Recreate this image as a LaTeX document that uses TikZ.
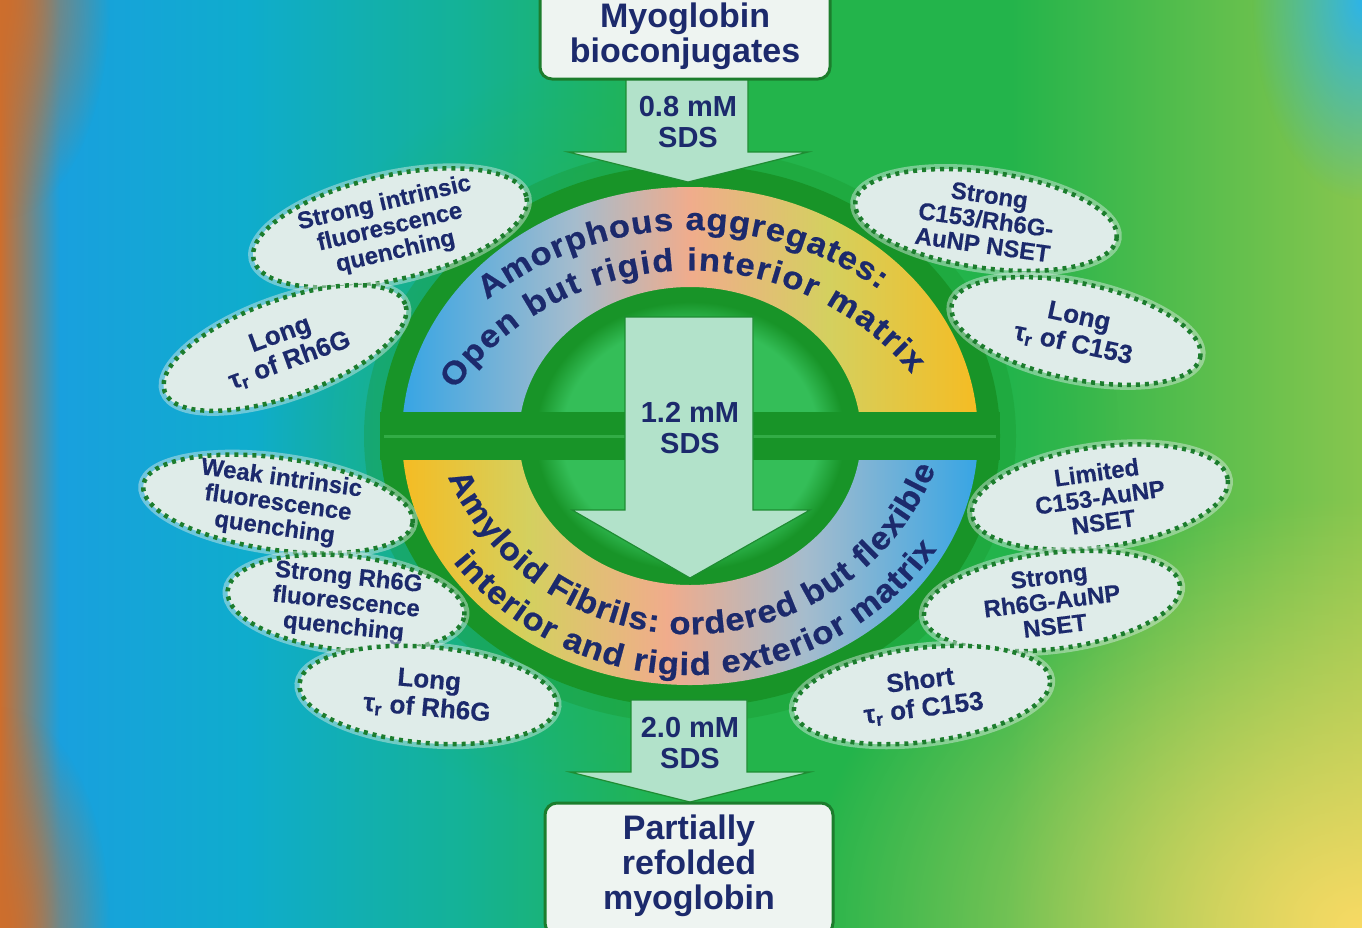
\documentclass[tikz,border=0pt]{standalone}
\usepackage{fontspec}
\setmainfont{Liberation Sans}
\newfontfamily\bandfamily{Liberation Sans}[FakeStretch=1.08, FakeBold=0.6]
\newfontfamily\bubblefamily{Liberation Sans}[FakeBold=0.3]
\usetikzlibrary{shapes.geometric,decorations.text,fadings}

\definecolor{bgOrange}{RGB}{205,110,45}
\definecolor{bgBlue}{RGB}{25,160,222}
\definecolor{bgCyan}{RGB}{15,172,205}
\definecolor{bgTeal}{RGB}{20,178,150}
\definecolor{bgGreen}{RGB}{35,180,75}
\definecolor{bgLime}{RGB}{135,198,78}
\definecolor{bgYellow}{RGB}{248,218,100}
\definecolor{bgSky}{RGB}{45,180,232}
\definecolor{ringDark}{RGB}{24,148,40}
\definecolor{ringLine}{RGB}{50,172,70}
\definecolor{innerLight}{RGB}{52,190,88}
\definecolor{arrowMint}{RGB}{178,226,202}
\definecolor{arrowEdge}{RGB}{30,140,50}
\definecolor{boxFill}{RGB}{238,244,241}
\definecolor{bubbleFill}{RGB}{223,236,233}
\definecolor{dotGreen}{RGB}{28,125,45}
\definecolor{textNavy}{RGB}{28,42,108}
\definecolor{bandBlue}{RGB}{55,165,228}
\definecolor{bandGrey}{RGB}{165,188,205}
\definecolor{bandSalmon}{RGB}{240,172,140}
\definecolor{bandLime}{RGB}{212,208,95}
\definecolor{bandGold}{RGB}{245,188,35}

\pgfdeclarehorizontalshading{bgshade}{100bp}{color(0bp)=(bgOrange); color(25bp)=(bgOrange); color(27.2bp)=(bgBlue); color(34bp)=(bgCyan); color(42bp)=(bgTeal); color(50bp)=(bgGreen); color(62bp)=(bgGreen); color(75bp)=(bgLime); color(100bp)=(bgLime)}
\pgfdeclarehorizontalshading{amorphband}{100bp}{color(0bp)=(bandBlue); color(25bp)=(bandBlue); color(40bp)=(bandGrey); color(50bp)=(bandSalmon); color(62bp)=(bandLime); color(75bp)=(bandGold); color(100bp)=(bandGold)}
\pgfdeclarehorizontalshading{fibrilband}{100bp}{color(0bp)=(bandGold); color(25bp)=(bandGold); color(36bp)=(bandLime); color(48bp)=(bandSalmon); color(60bp)=(bandGrey); color(75bp)=(bandBlue); color(100bp)=(bandBlue)}
\pgfdeclareradialshading{innerdisk}{\pgfpoint{0bp}{0bp}}{color(0bp)=(innerLight); color(19bp)=(innerLight); color(23bp)=(ringDark); color(25bp)=(ringDark); color(50bp)=(ringDark)}
\tikzfading[name=glow, inner color=transparent!0, outer color=transparent!100]

\newcommand{\bandfont}{\bandfamily\bfseries\fontsize{32}{34}\selectfont}

\begin{document}
\begin{tikzpicture}[x=1pt, y=-1pt]
  \tikzset{
    stagebox/.style={
      draw=dotGreen,
      line width=3pt,
      fill=boxFill,
      rounded corners=12pt,
      inner sep=0pt
    },
    stagetext/.style={
      text=textNavy,
      font=\bfseries\fontsize{34}{35}\selectfont,
      align=center,
      inner sep=0pt
    },
    sdsarrow/.style={
      fill=arrowMint,
      draw=arrowEdge,
      line width=1.2pt
    },
    sdslabel/.style={
      text=textNavy,
      font=\bfseries\fontsize{29}{31}\selectfont,
      align=center,
      inner sep=0pt
    },
    bubble/.style={
      ellipse,
      draw=dotGreen,
      fill=bubbleFill,
      line width=4.5pt,
      dash pattern=on 4pt off 5pt,
      preaction={draw=bubbleFill, draw opacity=0.45, line width=10pt, solid},
      inner sep=0pt
    },
    bubbletext/.style={
      text=textNavy,
      font=\bubblefamily\bfseries\fontsize{24}{25}\selectfont,
      align=center,
      inner sep=0pt
    },
    bandtext/.style={
      decorate,
      decoration={text along path, text align={fit to path}, text color=textNavy}
    }
  }
  \useasboundingbox (0,0) rectangle (1362,927);

  % Background
  \shade[shading=bgshade] (0,0) rectangle (1362,927);
  \fill[bgGreen, path fading=glow] (690,440) ellipse [x radius=430, y radius=400];
  \fill[bgYellow, path fading=glow] (1362,927) ellipse [x radius=560, y radius=430];
  \fill[bgSky, path fading=glow] (1362,0) ellipse [x radius=110, y radius=200];
  \fill[bgOrange, path fading=glow] (0,0) ellipse [x radius=110, y radius=220];
  \fill[bgOrange, path fading=glow] (0,927) ellipse [x radius=110, y radius=220];

  % Ring
  \fill[ringDark, opacity=0.3] (690,436) ellipse [x radius=326, y radius=287];
  \fill[ringDark] (690,436) ellipse [x radius=310, y radius=271];
  \begin{scope}
    \clip (360,140) rectangle (1020,412);
    \shade[shading=amorphband, even odd rule] (690,436) ellipse [x radius=288, y radius=249]
      (690,436) ellipse [x radius=171, y radius=149];
  \end{scope}
  \begin{scope}
    \clip (360,460) rectangle (1020,720);
    \shade[shading=fibrilband, even odd rule] (690,436) ellipse [x radius=288, y radius=249]
      (690,436) ellipse [x radius=171, y radius=149];
  \end{scope}
  \shade[shading=innerdisk] (690,436) ellipse [x radius=168, y radius=146];
  \fill[ringDark] (380,412) rectangle (1000,460);
  \draw[ringLine, line width=3pt] (384,436) -- (996,436);

  % Band texts
  \path[bandtext, decoration={text={|\bandfont|Amorphous aggregates:}}]
    (487,300) arc[start angle=232, end angle=305, radius=330];
  \path[bandtext, decoration={text={|\bandfont|Open but rigid interior matrix}}]
    (455,390) arc[start angle=216, end angle=320, radius=290];
  \path[bandtext, decoration={text={|\bandfont|Amyloid Fibrils: ordered but flexible}}]
    (448,477) arc[start angle=156, end angle=22, radius=265];
  \path[bandtext, decoration={text={|\bandfont|interior and rigid exterior matrix}}]
    (453,562) arc[start angle=141, end angle=36, radius=305];

  % SDS arrows
  \draw[sdsarrow] (626,70) -- (748,70) -- (748,152) -- (808,152) -- (688,182)
    -- (568,152) -- (626,152) -- cycle;
  \draw[sdsarrow] (625,317) -- (753,317) -- (753,510) -- (810,510) -- (690,578)
    -- (572,510) -- (625,510) -- cycle;
  \draw[sdsarrow] (631,700) -- (747,700) -- (747,772) -- (810,772) -- (690,802)
    -- (570,772) -- (631,772) -- cycle;
  \node[sdslabel] (sdsA) at (688,122) {0.8 mM\\SDS};
  \node[sdslabel] (sdsB) at (690,428) {1.2 mM\\SDS};
  \node[sdslabel] (sdsC) at (690,743) {2.0 mM\\SDS};

  % Stages
  \node[stagebox, minimum width=290, minimum height=96] (start) at (685,31) {};
  \node[stagetext] (startText) at (685,36) {Myoglobin\\bioconjugates};
  \node[stagebox, minimum width=288, minimum height=132] (finish) at (689,869) {};
  \node[stagetext] (finishText) at (689,866) {Partially\\refolded\\myoglobin};

  % Amorphous aggregate bubbles
  \node[bubble, minimum width=280, minimum height=104, rotate=13] (amorphA) at (390,228) {};
  \node[bubbletext, rotate=13] (amorphAtext) at (amorphA.center) {Strong intrinsic\\fluorescence\\quenching};
  \node[bubble, minimum width=256, minimum height=96, rotate=20] (amorphB) at (285,348) {};
  \node[bubbletext, rotate=20, font=\bubblefamily\bfseries\fontsize{26}{28}\selectfont] (amorphBtext) at (amorphB.center) {Long\\τ\textsubscript{r} of Rh6G};
  \node[bubble, minimum width=264, minimum height=96, rotate=-8] (amorphC) at (986,220) {};
  \node[bubbletext, rotate=-8] (amorphCtext) at (amorphC.center) {Strong\\C153/Rh6G-\\AuNP NSET};
  \node[bubble, minimum width=254, minimum height=96, rotate=-12] (amorphD) at (1076,331) {};
  \node[bubbletext, rotate=-12, font=\bubblefamily\bfseries\fontsize{26}{28}\selectfont] (amorphDtext) at (amorphD.center) {Long\\τ\textsubscript{r} of C153};

  % Amyloid fibril bubbles
  \node[bubble, minimum width=272, minimum height=92, rotate=-8] (fibrilA) at (278,504) {};
  \node[bubbletext, rotate=-8] (fibrilAtext) at (fibrilA.center) {Weak intrinsic\\fluorescence\\quenching};
  \node[bubble, minimum width=238, minimum height=94, rotate=-6] (fibrilB) at (346,603) {};
  \node[bubbletext, rotate=-6] (fibrilBtext) at (fibrilB.center) {Strong Rh6G\\fluorescence\\quenching};
  \node[bubble, minimum width=258, minimum height=96, rotate=-5] (fibrilC) at (428,695) {};
  \node[bubbletext, rotate=-5, font=\bubblefamily\bfseries\fontsize{26}{28}\selectfont] (fibrilCtext) at (fibrilC.center) {Long\\τ\textsubscript{r} of Rh6G};
  \node[bubble, minimum width=258, minimum height=100, rotate=8] (fibrilD) at (1100,497) {};
  \node[bubbletext, rotate=8] (fibrilDtext) at (fibrilD.center) {Limited\\C153-AuNP\\NSET};
  \node[bubble, minimum width=258, minimum height=96, rotate=7] (fibrilE) at (1052,601) {};
  \node[bubbletext, rotate=7] (fibrilEtext) at (fibrilE.center) {Strong\\Rh6G-AuNP\\NSET};
  \node[bubble, minimum width=258, minimum height=94, rotate=7] (fibrilF) at (922,695) {};
  \node[bubbletext, rotate=7, font=\bubblefamily\bfseries\fontsize{26}{28}\selectfont] (fibrilFtext) at (fibrilF.center) {Short\\τ\textsubscript{r} of C153};
\end{tikzpicture}
\end{document}
